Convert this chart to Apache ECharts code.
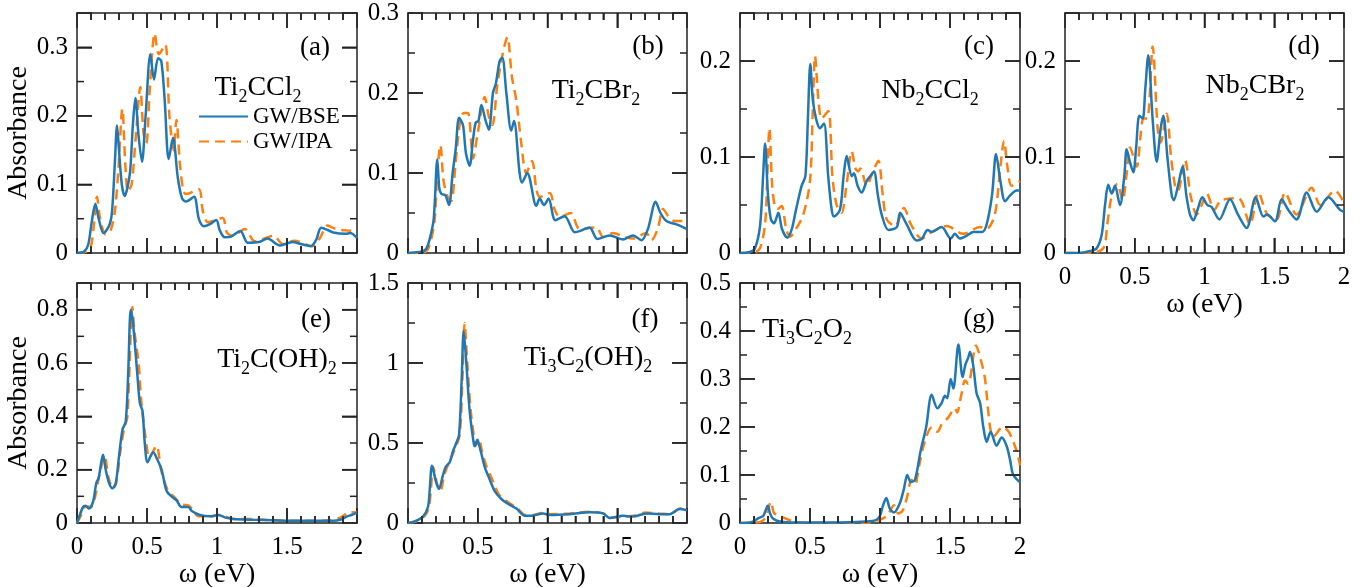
<!DOCTYPE html>
<html>
<head>
<meta charset="utf-8">
<script src="https://cdn.jsdelivr.net/npm/echarts@6/dist/echarts.min.js"></script>
<style>html, body { margin: 0; background: #fff } #chart { width: 1371px; height: 587px } #log { position: absolute; left: 1060px; top: 340px; width: 300px; font: 12px monospace; color: #c00 }</style>
</head>
<body>
<div id="chart"></div>
<div id="log"></div>
<script>
function note(s) { document.getElementById("log").textContent += s + " | " }
window.onerror = function(msg) { note("err: " + msg) }

// absorbance spectra, omega in eV
var aBse = [[0,0],[0.05,0.002],[0.08,0.012],[0.105,0.045],[0.131,0.072],[0.155,0.05],[0.19,0.029],[0.23,0.04],[0.25,0.06],[0.27,0.13],[0.286,0.186],[0.3,0.15],[0.32,0.1],[0.34,0.083],[0.36,0.095],[0.38,0.12],[0.4,0.19],[0.417,0.226],[0.44,0.17],[0.464,0.133],[0.49,0.2],[0.524,0.29],[0.55,0.253],[0.579,0.284],[0.602,0.28],[0.626,0.224],[0.655,0.137],[0.686,0.168],[0.72,0.11],[0.75,0.08],[0.78,0.075],[0.836,0.082],[0.87,0.05],[0.905,0.039],[0.95,0.042],[0.995,0.048],[1.02,0.033],[1.055,0.023],[1.1,0.024],[1.167,0.032],[1.22,0.015],[1.3,0.016],[1.36,0.021],[1.45,0.011],[1.54,0.016],[1.6,0.013],[1.67,0.01],[1.71,0.02],[1.745,0.037],[1.83,0.03],[1.92,0.028],[1.95,0.029],[2,0.022]]
var aIpa = [[0,0],[0.07,0.002],[0.1,0.01],[0.12,0.04],[0.143,0.082],[0.165,0.05],[0.205,0.027],[0.24,0.033],[0.27,0.06],[0.295,0.12],[0.324,0.21],[0.345,0.13],[0.364,0.09],[0.39,0.1],[0.42,0.17],[0.452,0.242],[0.475,0.175],[0.495,0.16],[0.52,0.24],[0.555,0.32],[0.585,0.29],[0.63,0.304],[0.66,0.2],[0.69,0.15],[0.71,0.194],[0.735,0.13],[0.76,0.09],[0.78,0.086],[0.87,0.093],[0.9,0.06],[0.935,0.045],[1.04,0.051],[1.07,0.03],[1.11,0.025],[1.2,0.035],[1.27,0.017],[1.405,0.025],[1.47,0.013],[1.555,0.018],[1.68,0.01],[1.73,0.02],[1.79,0.04],[1.85,0.035],[1.92,0.033],[2,0.032]]
var bBse = [[0,0],[0.1,0.002],[0.13,0.005],[0.155,0.017],[0.184,0.042],[0.21,0.117],[0.225,0.08],[0.24,0.074],[0.268,0.072],[0.294,0.06],[0.32,0.1],[0.342,0.13],[0.366,0.169],[0.394,0.16],[0.415,0.125],[0.442,0.109],[0.465,0.14],[0.485,0.163],[0.505,0.165],[0.526,0.185],[0.557,0.165],[0.58,0.154],[0.609,0.2],[0.63,0.212],[0.657,0.24],[0.676,0.244],[0.705,0.2],[0.74,0.153],[0.76,0.165],[0.8,0.1],[0.817,0.088],[0.855,0.1],[0.92,0.059],[0.944,0.068],[0.975,0.06],[1.008,0.068],[1.056,0.041],[1.123,0.046],[1.195,0.026],[1.24,0.028],[1.302,0.032],[1.357,0.0175],[1.446,0.022],[1.54,0.017],[1.613,0.022],[1.673,0.016],[1.72,0.03],[1.775,0.064],[1.81,0.05],[1.852,0.04],[1.92,0.036],[2,0.03]]
var bIpa = [[0,0],[0.12,0.001],[0.155,0.01],[0.19,0.04],[0.21,0.1],[0.232,0.135],[0.255,0.09],[0.285,0.07],[0.31,0.065],[0.34,0.11],[0.37,0.16],[0.4,0.175],[0.43,0.175],[0.466,0.118],[0.5,0.15],[0.55,0.195],[0.58,0.17],[0.605,0.16],[0.64,0.21],[0.68,0.25],[0.712,0.27],[0.745,0.22],[0.777,0.19],[0.81,0.14],[0.848,0.1],[0.889,0.115],[0.92,0.08],[0.944,0.07],[1.016,0.075],[1.05,0.055],[1.087,0.045],[1.166,0.05],[1.23,0.03],[1.35,0.032],[1.4,0.02],[1.47,0.025],[1.55,0.02],[1.613,0.018],[1.708,0.025],[1.744,0.016],[1.79,0.03],[1.828,0.055],[1.87,0.045],[1.912,0.04],[2,0.04]]
var cBse = [[0,0],[0.07,0.001],[0.107,0.005],[0.143,0.028],[0.165,0.08],[0.179,0.114],[0.2,0.06],[0.221,0.035],[0.243,0.031],[0.274,0.042],[0.3,0.025],[0.338,0.016],[0.37,0.025],[0.4,0.045],[0.44,0.07],[0.467,0.08],[0.485,0.14],[0.502,0.197],[0.52,0.16],[0.543,0.14],[0.571,0.13],[0.6,0.135],[0.63,0.08],[0.655,0.045],[0.671,0.038],[0.714,0.045],[0.74,0.08],[0.762,0.101],[0.798,0.08],[0.814,0.083],[0.84,0.07],[0.869,0.063],[0.905,0.075],[0.93,0.08],[0.957,0.085],[0.985,0.06],[1.012,0.04],[1.06,0.024],[1.12,0.027],[1.143,0.042],[1.19,0.03],[1.262,0.013],[1.3,0.015],[1.34,0.024],[1.37,0.022],[1.44,0.027],[1.505,0.015],[1.535,0.02],[1.57,0.015],[1.62,0.018],[1.667,0.022],[1.73,0.022],[1.762,0.03],[1.8,0.06],[1.829,0.103],[1.86,0.075],[1.893,0.054],[1.93,0.06],[1.976,0.065],[2,0.065]]
var cIpa = [[0,0],[0.107,0.001],[0.143,0.005],[0.179,0.03],[0.195,0.08],[0.21,0.13],[0.23,0.07],[0.25,0.048],[0.27,0.046],[0.298,0.049],[0.33,0.025],[0.357,0.017],[0.4,0.025],[0.452,0.04],[0.5,0.075],[0.52,0.15],[0.536,0.205],[0.56,0.16],[0.583,0.14],[0.631,0.148],[0.66,0.08],[0.69,0.05],[0.726,0.042],[0.76,0.07],[0.798,0.106],[0.825,0.088],[0.845,0.085],[0.86,0.088],[0.905,0.07],[0.95,0.085],[0.988,0.096],[1.02,0.06],[1.048,0.035],[1.107,0.028],[1.171,0.047],[1.22,0.03],[1.298,0.015],[1.37,0.022],[1.476,0.028],[1.595,0.02],[1.714,0.027],[1.76,0.025],[1.82,0.04],[1.86,0.09],[1.886,0.117],[1.91,0.09],[1.94,0.07],[2,0.075]]
var dBse = [[0,0],[0.1,0],[0.18,0.002],[0.227,0.005],[0.263,0.019],[0.287,0.05],[0.31,0.071],[0.335,0.062],[0.358,0.07],[0.394,0.05],[0.425,0.08],[0.442,0.108],[0.465,0.095],[0.49,0.084],[0.51,0.11],[0.533,0.143],[0.557,0.14],[0.575,0.17],[0.597,0.206],[0.628,0.14],[0.657,0.095],[0.686,0.13],[0.705,0.143],[0.734,0.1],[0.765,0.06],[0.78,0.055],[0.81,0.07],[0.843,0.09],[0.87,0.06],[0.896,0.04],[0.92,0.034],[0.95,0.045],[0.984,0.058],[1.02,0.05],[1.05,0.048],[1.106,0.035],[1.183,0.056],[1.24,0.04],[1.302,0.026],[1.367,0.058],[1.422,0.038],[1.45,0.04],[1.505,0.033],[1.553,0.056],[1.6,0.045],[1.66,0.035],[1.732,0.063],[1.804,0.043],[1.888,0.058],[1.971,0.045],[2,0.043]]
var dIpa = [[0,0],[0.18,0],[0.275,0.005],[0.303,0.03],[0.335,0.06],[0.375,0.072],[0.413,0.055],[0.44,0.08],[0.466,0.11],[0.514,0.09],[0.54,0.12],[0.562,0.14],[0.59,0.14],[0.628,0.215],[0.664,0.13],[0.686,0.115],[0.729,0.145],[0.76,0.1],[0.789,0.07],[0.81,0.065],[0.86,0.097],[0.9,0.06],[0.944,0.04],[0.98,0.05],[1.016,0.062],[1.07,0.045],[1.12,0.055],[1.243,0.057],[1.326,0.03],[1.386,0.063],[1.45,0.04],[1.517,0.035],[1.577,0.063],[1.66,0.04],[1.768,0.068],[1.83,0.05],[1.935,0.065],[2,0.052]]
var eBse = [[0,0],[0.02,0.03],[0.043,0.06],[0.06,0.065],[0.086,0.054],[0.115,0.08],[0.138,0.15],[0.155,0.17],[0.186,0.256],[0.205,0.2],[0.229,0.15],[0.253,0.13],[0.277,0.15],[0.3,0.25],[0.325,0.35],[0.348,0.38],[0.365,0.55],[0.384,0.8],[0.4,0.75],[0.432,0.55],[0.449,0.45],[0.468,0.42],[0.484,0.3],[0.504,0.228],[0.544,0.265],[0.572,0.24],[0.604,0.2],[0.64,0.12],[0.675,0.1],[0.711,0.085],[0.747,0.06],[0.795,0.06],[0.82,0.045],[0.878,0.03],[0.95,0.025],[1.01,0.03],[1.06,0.02],[1.117,0.015],[1.26,0.012],[1.4,0.01],[1.6,0.008],[1.75,0.008],[1.83,0.008],[1.88,0.012],[1.93,0.025],[1.96,0.03],[2,0.04]]
var eIpa = [[0,0],[0.03,0.03],[0.055,0.06],[0.075,0.062],[0.1,0.06],[0.13,0.1],[0.16,0.18],[0.198,0.25],[0.225,0.17],[0.258,0.13],[0.28,0.15],[0.31,0.27],[0.335,0.35],[0.36,0.4],[0.396,0.81],[0.41,0.72],[0.44,0.6],[0.46,0.45],[0.5,0.28],[0.516,0.245],[0.568,0.29],[0.6,0.2],[0.65,0.12],[0.69,0.1],[0.75,0.07],[0.8,0.065],[0.87,0.025],[0.95,0.025],[1.02,0.03],[1.117,0.015],[1.26,0.015],[1.4,0.01],[1.6,0.008],[1.8,0.01],[1.88,0.02],[1.95,0.04],[2,0.04]]
var fBse = [[0,0],[0.048,0.01],[0.107,0.04],[0.143,0.1],[0.155,0.2],[0.172,0.358],[0.203,0.25],[0.222,0.213],[0.251,0.3],[0.27,0.35],[0.299,0.38],[0.323,0.45],[0.346,0.5],[0.366,0.55],[0.385,0.9],[0.399,1.2],[0.418,1.0],[0.442,0.7],[0.471,0.5],[0.48,0.48],[0.497,0.52],[0.521,0.45],[0.55,0.35],[0.573,0.3],[0.621,0.2],[0.669,0.15],[0.717,0.12],[0.777,0.09],[0.836,0.046],[0.884,0.045],[0.968,0.06],[1.016,0.05],[1.16,0.055],[1.302,0.067],[1.398,0.06],[1.446,0.031],[1.541,0.045],[1.613,0.04],[1.708,0.06],[1.804,0.055],[1.876,0.055],[1.948,0.0875],[2,0.08]]
var fIpa = [[0,0],[0.06,0.01],[0.12,0.045],[0.15,0.1],[0.165,0.22],[0.18,0.35],[0.21,0.24],[0.232,0.2],[0.26,0.3],[0.29,0.37],[0.33,0.45],[0.37,0.55],[0.39,0.9],[0.406,1.25],[0.425,1.0],[0.45,0.7],[0.48,0.5],[0.49,0.49],[0.508,0.53],[0.53,0.45],[0.56,0.36],[0.6,0.28],[0.65,0.18],[0.7,0.14],[0.78,0.095],[0.84,0.05],[0.9,0.05],[0.97,0.065],[1.02,0.055],[1.16,0.06],[1.3,0.07],[1.4,0.06],[1.45,0.035],[1.55,0.04],[1.62,0.045],[1.7,0.065],[1.8,0.06],[1.88,0.055],[1.95,0.09],[2,0.085]]
var gBse = [[0,0],[0.071,0.001],[0.107,0.005],[0.131,0.01],[0.167,0.015],[0.198,0.036],[0.215,0.02],[0.233,0.01],[0.286,0.003],[0.4,0.001],[0.7,0.001],[0.9,0.003],[0.97,0.006],[1.0,0.015],[1.02,0.035],[1.045,0.052],[1.07,0.03],[1.1,0.022],[1.14,0.04],[1.17,0.07],[1.195,0.1],[1.22,0.085],[1.25,0.09],[1.29,0.15],[1.33,0.2],[1.369,0.267],[1.41,0.239],[1.44,0.25],[1.464,0.265],[1.48,0.26],[1.505,0.3],[1.524,0.28],[1.56,0.372],[1.59,0.304],[1.61,0.33],[1.631,0.345],[1.643,0.357],[1.665,0.33],[1.69,0.27],[1.715,0.25],[1.738,0.2],[1.762,0.169],[1.79,0.19],[1.833,0.161],[1.869,0.178],[1.905,0.16],[1.93,0.13],[1.952,0.1],[2,0.085]]
var gIpa = [[0,0],[0.12,0.001],[0.179,0.01],[0.221,0.044],[0.245,0.02],[0.32,0.01],[0.38,0.003],[0.45,0],[0.9,0],[0.98,0.005],[1.05,0.015],[1.1,0.037],[1.13,0.02],[1.16,0.025],[1.19,0.05],[1.225,0.09],[1.25,0.08],[1.28,0.12],[1.32,0.17],[1.369,0.199],[1.41,0.19],[1.44,0.205],[1.488,0.22],[1.536,0.239],[1.55,0.23],[1.583,0.27],[1.607,0.297],[1.63,0.29],[1.686,0.37],[1.72,0.34],[1.75,0.3],[1.786,0.2],[1.81,0.18],[1.876,0.2],[1.92,0.19],[1.976,0.15],[2,0.12]]

var bseList = [aBse, bBse, cBse, dBse, eBse, fBse, gBse]
var ipaList = [aIpa, bIpa, cIpa, dIpa, eIpa, fIpa, gIpa]
var panelTags = ["(a)", "(b)", "(c)", "(d)", "(e)", "(f)", "(g)"]
var panelNames = ["{n|Ti}{s|2}{n|CCl}{s|2}", "{n|Ti}{s|2}{n|CBr}{s|2}", "{n|Nb}{s|2}{n|CCl}{s|2}", "{n|Nb}{s|2}{n|CBr}{s|2}", "{n|Ti}{s|2}{n|C(OH)}{s|2}", "{n|Ti}{s|3}{n|C}{s|2}{n|(OH)}{s|2}", "{n|Ti}{s|3}{n|C}{s|2}{n|O}{s|2}"]
var yMax = [0.35, 0.3, 0.25, 0.25, 0.9, 1.5, 0.5]
var yMajor = [0.1, 0.1, 0.1, 0.1, 0.2, 0.5, 0.1]
var yMinor = [0.05, 0.05, 0.05, 0.05, 0.1, 0.25, 0.05]
var xMax = 2, xMajor = 0.5, xMinor = 0.1

// layout: grid boxes [left, top, width], label centres
var boxes = [[77, 13, 280], [408, 13, 279], [740, 13, 280], [1065, 13, 279], [77, 283, 280], [408, 283, 279], [740, 283, 280]]
var tagPos = [[315, 48], [648, 47], [979, 47], [1304, 47], [316, 320], [645, 320], [979, 320]]
var namePos = [[258, 88], [596, 91], [930, 91], [1255, 86], [277, 360], [588, 358], [807, 330]]
var showXLabel = [false, false, false, true, true, true, true]
var showYName = [true, false, false, false, true, false, false]

var SERIF = "'Liberation Serif', serif", INK = "#222", BLUE = "#1f77b4", ORANGE = "#ff7f0e"
function line() { return {show: true, onZero: false, lineStyle: {color: INK, width: 1.5}} }
function ticks(len) { return {show: true, inside: true, length: len, lineStyle: {color: INK, width: 1.5}} }
function fmt(v, step) { v = Number(v); var k = v/step; return Math.abs(k-Math.round(k)) < 1e-6? String(+v.toFixed(2)): "" }

var grid = [], xAxis = [], yAxis = [], series = [], graphic = []
boxes.forEach(function(b, i) {
	grid.push({left: b[0], top: b[1], width: b[2], height: 240, outerBoundsMode: "none"})
	var x = {gridIndex: i, type: "value", min: 0, max: xMax, interval: xMajor, splitLine: {show: false}, axisLine: line(), axisTick: ticks(15),
		minorTick: {show: true, splitNumber: 5, length: 7, lineStyle: {color: INK, width: 1.5}}, position: "bottom",
		name: showXLabel[i]? "ω (eV)": "", nameLocation: "middle", nameGap: 28, nameTextStyle: {fontFamily: SERIF, fontSize: 28, color: "#000"},
		axisLabel: {show: showXLabel[i], fontFamily: SERIF, fontSize: 25, color: "#000", margin: 12}}
	var step = yMajor[i]
	var y = {gridIndex: i, type: "value", min: 0, max: yMax[i], interval: step, splitLine: {show: false}, axisLine: line(), axisTick: ticks(15), position: "left",
		name: showYName[i]? "Absorbance": "", nameLocation: "middle", nameGap: 39, nameTextStyle: {fontFamily: SERIF, fontSize: 28, color: "#000"},
		axisLabel: {show: true, fontFamily: SERIF, fontSize: 25, color: "#000", margin: 9, formatter: function(v) { return fmt(v, step) }}}
	xAxis.push(x), yAxis.push(y)
	var xi = xAxis.length-1, yi = yAxis.length-1
	xAxis.push(Object.assign({}, x, {position: "top", name: "", axisLabel: {show: false}}))
	yAxis.push(Object.assign({}, y, {position: "right", name: "", axisLabel: {show: false}}))
	series.push({name: "GW/IPA", type: "line", xAxisIndex: xi, yAxisIndex: yi, data: ipaList[i], symbol: "none", smooth: 0.3,
		lineStyle: {color: ORANGE, width: 2.5, type: [10, 6]}, itemStyle: {color: ORANGE}})
	series.push({name: "GW/BSE", type: "line", xAxisIndex: xi, yAxisIndex: yi, data: bseList[i], symbol: "none", smooth: 0.3,
		lineStyle: {color: BLUE, width: 2.5}, itemStyle: {color: BLUE}})
	graphic.push({type: "text", x: tagPos[i][0], y: tagPos[i][1], style: {text: panelTags[i], align: "center", verticalAlign: "middle", fontFamily: SERIF, fontSize: 27, fill: "#000"}})
	graphic.push({type: "text", x: namePos[i][0], y: namePos[i][1], style: {text: panelNames[i], align: "center", verticalAlign: "middle", fill: "#000",
		rich: {n: {fontFamily: SERIF, fontSize: 28, lineHeight: 28, verticalAlign: "top", fill: "#000"}, s: {fontFamily: SERIF, fontSize: 18, lineHeight: 18, padding: [14, 0, 0, 0], verticalAlign: "top", fill: "#000"}}}})
})

var legendText = {fontFamily: SERIF, fontSize: 23, color: "#000"}
var chart = echarts.init(document.getElementById("chart"))
// axes first, on their own, so the scales exist before anything else is added
try { chart.setOption({animation: false, grid: grid, xAxis: xAxis, yAxis: yAxis}) } catch (e) { note("axes: " + e.message) }

// inward tick marks on all four sides, placed through each grid's own scales
function seg(x1, y1, x2, y2) { return {type: "line", silent: true, z: 50, shape: {x1: x1, y1: y1, x2: x2, y2: y2}, style: {stroke: INK, lineWidth: 1.5}} }
function px(i, v) {
	var p = null
	try { p = chart.convertToPixel({xAxisIndex: 2*i, yAxisIndex: 2*i}, v) } catch (e) { note("px: " + e.message) }
	if (!p || isNaN(p[0]) || isNaN(p[1])) { var b = boxes[i]; p = [b[0] + v[0]/xMax*b[2], b[1] + 240 - v[1]/yMax[i]*240] }
	return p
}
var marks = []
boxes.forEach(function(b, i) {
	var top = yMax[i], nx = Math.round(xMax/xMinor), rx = Math.round(xMajor/xMinor)
	for (var k = 1; k < nx; k++) { var len = k % rx == 0? 15: 7
		var p = px(i, [k*xMinor, 0]), q = px(i, [k*xMinor, top])
		marks.push(seg(p[0], p[1], p[0], p[1]-len), seg(q[0], q[1], q[0], q[1]+len)) }
	var ny = Math.round(top/yMinor[i]), ry = Math.round(yMajor[i]/yMinor[i])
	for (var k = 1; k < ny; k++) { var len = k % ry == 0? 15: 7
		var p = px(i, [0, k*yMinor[i]]), q = px(i, [xMax, k*yMinor[i]])
		marks.push(seg(p[0], p[1], p[0]+len, p[1]), seg(q[0], q[1], q[0]-len, q[1])) }
})

try {
	chart.setOption({
		legend: [
			{data: ["GW/BSE"], left: 198, top: 105, itemWidth: 49, itemHeight: 14, padding: 0, itemStyle: {opacity: 0}, textStyle: legendText},
			{data: ["GW/IPA"], left: 198, top: 130, itemWidth: 49, itemHeight: 14, padding: 0, itemStyle: {opacity: 0}, textStyle: legendText},
		],
		series: series, graphic: marks.concat(graphic),
	})
} catch (e) { note("main: " + e.message) }
</script>
</body>
</html>
